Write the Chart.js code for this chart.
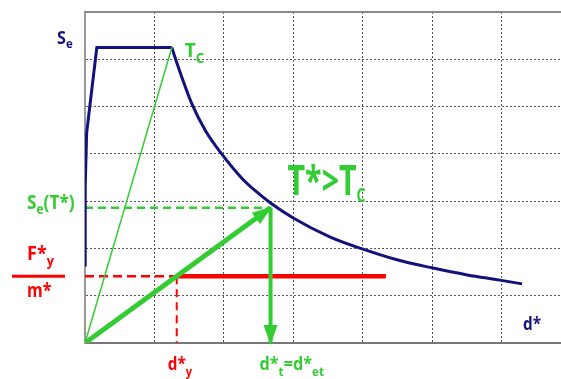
<!DOCTYPE html>
<html>
<head>
<meta charset="utf-8">
<script src="https://cdn.jsdelivr.net/npm/chart.js@4/dist/chart.umd.min.js"></script>
<style>
  body { margin: 0; background: #fff; }
  canvas { display: block; }
</style>
</head>
<body>
<canvas id="adrs" width="561" height="379"></canvas>
<script>
// spettro elastico in formato ADRS (d*, Se)
var riseD  = [0, 0.003, 0.024, 0.17, 1.25];
var riseSe = [1.65, 3.3, 4.45, 6.25, 6.25];
var decayD  = [1.25, 1.30, 1.54, 1.73, 1.95, 2.26, 2.45, 2.66, 2.99, 3.53, 3.99, 4.49, 4.99, 5.50, 5.97, 6.29];
var decaySe = [6.25, 6.02, 5.05, 4.50, 4.03, 3.48, 3.22, 2.97, 2.65, 2.24, 1.99, 1.76, 1.59, 1.44, 1.33, 1.25];

// punti notevoli
var tcD = 1.25, tcSe = 6.25;          // T_C
var dyStar = 1.32, fyOverM = 1.41;    // snervamento bilineare
var redEnd = 4.33;                    // fine del tratto orizzontale
var dtStar = 2.67, seTStar = 2.86;    // T* > T_C

// assi
var xMax = 6.85, yMax = 7;

var NAVY = '#12127e', GREEN = '#33cc33', RED = '#ff0000';

function pts(xs, ys) {
    return xs.map(function(x, i) { return { x: x, y: ys[i] }; });
}
function seg(x0, y0, x1, y1, color, width, dash, arrow) {
    return {
        data: pts([x0, x1], [y0, y1]),
        borderColor: color,
        borderWidth: width,
        borderDash: dash || [],
        arrow: arrow || false
    };
}

function drawRich(ctx, x, y, parts, color, sx) {
    ctx.save();
    ctx.translate(x, y);
    ctx.scale(sx, 1);
    ctx.fillStyle = color;
    ctx.textAlign = 'left';
    ctx.textBaseline = 'alphabetic';
    var cx = 0;
    parts.forEach(function(p) {
        ctx.font = 'bold ' + p[1] + 'px "Open Sans"';
        ctx.fillText(p[0], cx, p[2] || 0);
        cx += ctx.measureText(p[0]).width;
    });
    ctx.restore();
}

var decorations = {
    id: 'decorations',
    beforeDatasetsDraw: function(chart) {
        var ctx = chart.ctx, a = chart.chartArea;
        ctx.save();
        ctx.strokeStyle = '#8a8a8a';
        ctx.lineWidth = 2;
        ctx.beginPath();
        ctx.moveTo(a.left, a.top);
        ctx.lineTo(a.right, a.top);
        ctx.stroke();
        ctx.restore();
    },
    afterDatasetsDraw: function(chart) {
        var ctx = chart.ctx;
        var x = chart.scales.x, y = chart.scales.y;

        // punte delle frecce
        chart.data.datasets.forEach(function(ds, i) {
            if (!ds.arrow) return;
            var el = chart.getDatasetMeta(i).data;
            var p0 = el[el.length - 2], p1 = el[el.length - 1];
            var ang = Math.atan2(p1.y - p0.y, p1.x - p0.x);
            var len = 18, half = 7;
            ctx.save();
            ctx.translate(p1.x, p1.y);
            ctx.rotate(ang);
            ctx.fillStyle = ds.borderColor;
            ctx.beginPath();
            ctx.moveTo(2, 0);
            ctx.lineTo(-len, -half);
            ctx.lineTo(-len, half);
            ctx.closePath();
            ctx.fill();
            ctx.restore();
        });

        var left = chart.chartArea.left, bottom = chart.chartArea.bottom, top = chart.chartArea.top;

        drawRich(ctx, left - 28, top + 32, [['S', 17], ['e', 12, 4]], NAVY, 0.95);
        drawRich(ctx, x.getPixelForValue(tcD) + 13, y.getPixelForValue(tcSe) + 10,
            [['T', 20], ['C', 14, 6]], GREEN, 0.95);
        drawRich(ctx, x.getPixelForValue(dtStar) + 17, y.getPixelForValue(seTStar) - 13,
            [['T*>T', 41], ['C', 19, 7]], GREEN, 0.74);
        drawRich(ctx, 27, y.getPixelForValue(seTStar) + 1,
            [['S', 20], ['e', 14, 5], ['(T*)', 20]], GREEN, 0.86);

        var fy = y.getPixelForValue(fyOverM);
        drawRich(ctx, 27, fy - 16, [['F*', 20], ['y', 14, 6]], RED, 0.9);
        ctx.save();
        ctx.strokeStyle = RED;
        ctx.lineWidth = 3;
        ctx.beginPath();
        ctx.moveTo(12, fy);
        ctx.lineTo(65, fy);
        ctx.stroke();
        ctx.restore();
        drawRich(ctx, 27, fy + 21, [['m*', 20]], RED, 0.8);

        drawRich(ctx, x.getPixelForValue(dyStar) - 9, bottom + 27,
            [['d*', 18], ['y', 13, 6]], RED, 0.85);
        drawRich(ctx, x.getPixelForValue(dtStar) - 11, bottom + 27,
            [['d*', 18], ['t', 13, 6], ['=d*', 18], ['et', 13, 6]], GREEN, 0.9);
        drawRich(ctx, 523, bottom - 13, [['d*', 18]], NAVY, 0.85);
    }
};

var ctxAdrs = document.getElementById('adrs').getContext('2d');
var adrsChart = new Chart(ctxAdrs, {
    type: 'scatter',
    data: {
        datasets: [
            seg(0, 0, dtStar, seTStar, GREEN, 5, null, true),
            seg(dtStar, seTStar, dtStar, 0, GREEN, 4, null, true),
            seg(0, 0, tcD, tcSe, GREEN, 1.5),
            {
                data: pts(decayD, decaySe),
                borderColor: NAVY,
                borderWidth: 3,
                cubicInterpolationMode: 'monotone'
            },
            {
                data: pts(riseD, riseSe),
                borderColor: NAVY,
                borderWidth: 3,
                borderJoinStyle: 'miter'
            },
            seg(dyStar, fyOverM, redEnd, fyOverM, RED, 4.5),
            seg(0, fyOverM, dyStar, fyOverM, RED, 2.5, [9, 5]),
            seg(dyStar, fyOverM, dyStar, 0, RED, 2, [8, 5]),
            seg(0, 0, dyStar, fyOverM, RED, 1.5),
            seg(0, seTStar, dtStar, seTStar, GREEN, 2.5, [8, 5])
        ]
    },
    options: {
        responsive: false,
        animation: false,
        showLine: true,
        elements: { point: { radius: 0, hoverRadius: 0 } },
        layout: { padding: { left: 85, top: 12, right: 0, bottom: 36 } },
        plugins: {
            legend: { display: false },
            tooltip: { enabled: false }
        },
        scales: {
            x: {
                type: 'linear',
                min: 0,
                max: xMax,
                ticks: { display: false, stepSize: 1 },
                afterBuildTicks: function(scale) {
                    scale.ticks = scale.ticks.filter(function(t) { return Number.isInteger(t.value); });
                },
                grid: { color: '#555', lineWidth: 1, drawTicks: false },
                border: { display: true, color: '#777', width: 2, dash: [2, 2] }
            },
            y: {
                type: 'linear',
                min: 0,
                max: yMax,
                ticks: { display: false, stepSize: 1 },
                grid: { color: '#555', lineWidth: 1, drawTicks: false },
                border: { display: true, color: '#999', width: 2, dash: [2, 2] }
            }
        }
    },
    plugins: [decorations]
});
</script>
</body>
</html>
